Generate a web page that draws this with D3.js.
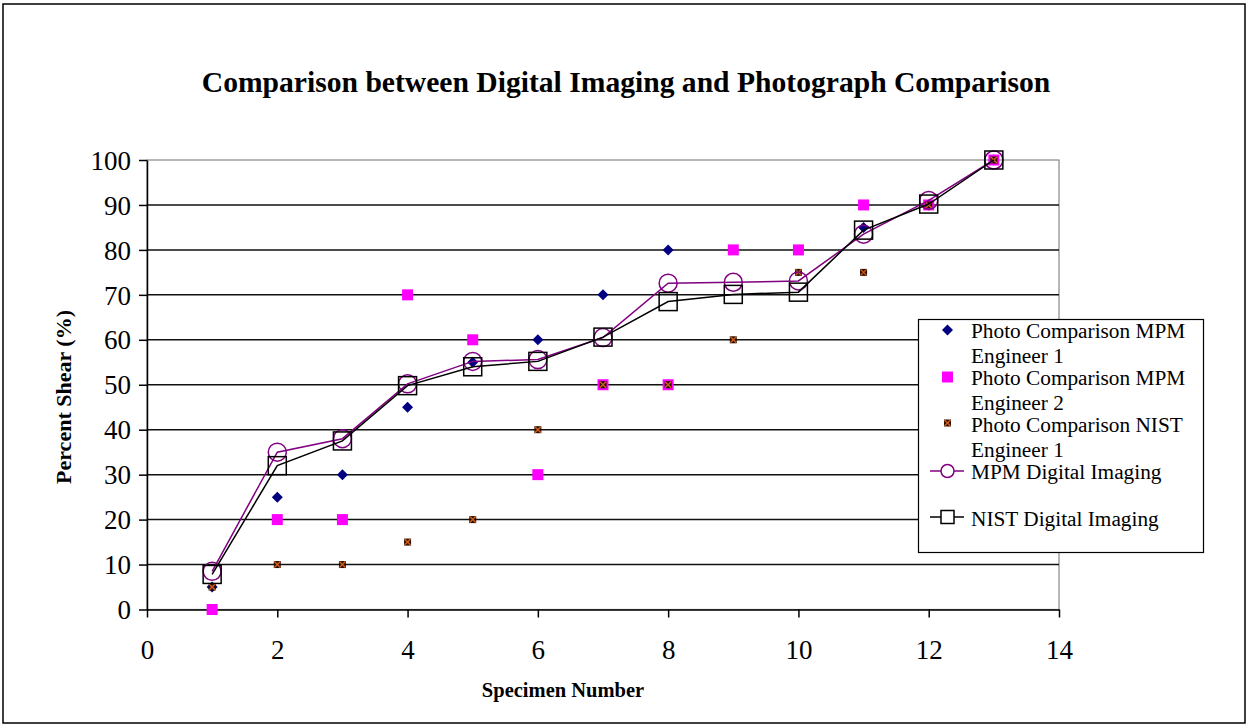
<!DOCTYPE html>
<meta charset="utf-8">
<head>
<title>Comparison between Digital Imaging and Photograph Comparison</title>
<style>
  body { margin: 0; background: #fff; }
  svg { display: block; background: #fff; }
  text { font-family: "Liberation Serif", "Times New Roman", serif; fill: #000; }
  .tick text { font-size: 27px; }
  .title { font-size: 29.6px; font-weight: bold; }
  .xtitle { font-size: 20.5px; font-weight: bold; }
  .ytitle { font-size: 22px; font-weight: bold; }
  .leg { font-size: 21.3px; }
</style>
</head>
<body>
<script src="https://cdn.jsdelivr.net/npm/d3@7/dist/d3.min.js"></script>
<script>

// data
var specimens   = [1, 2, 3, 4, 5, 6, 7, 8, 9, 10, 11, 12, 13];
var mpmEng1     = [5, 25, 30, 45, 55, 60, 70, 80, null, null, 85, 90, 100];
var mpmEng2     = [0, 20, 20, 70, 60, 30, 50, 50, 80, 80, 90, 90, 100];
var nistEng1    = [5, 10, 10, 15, 20, 40, 50, 50, 60, 75, 75, 90, 100];
var mpmDigital  = [8.5, 35, 38, 50.2, 55.2, 55.6, 60.5, 72.6, 72.8, 73.1, 83.5, 91, 100];
var nistDigital = [7.8, 32, 37.5, 49.8, 54, 55.2, 60.6, 68.5, 70.1, 70.6, 84.4, 90.2, 100];
var xTicks = [0, 2, 4, 6, 8, 10, 12, 14];
var yTicks = [0, 10, 20, 30, 40, 50, 60, 70, 80, 90, 100];
var legendLabels = [
  ["Photo Comparison MPM", "Engineer 1"],
  ["Photo Comparison MPM", "Engineer 2"],
  ["Photo Comparison NIST", "Engineer 1"],
  ["MPM Digital Imaging"],
  ["NIST Digital Imaging"]
];

var W = 1249, H = 725;
var margin = {top: 160, left: 147},
    width = 1059 - 147,
    height = 609.5 - 160;

var svg = d3.select("body").append("svg")
    .attr("width", W)
    .attr("height", H);

// outer chart border
svg.append("rect")
    .attr("x", 3).attr("y", 4)
    .attr("width", 1242).attr("height", 719)
    .attr("fill", "none").attr("stroke", "#000").attr("stroke-width", 1.5);

var g = svg.append("g")
    .attr("transform", "translate(" + margin.left + "," + margin.top + ")");

var x = d3.scaleLinear().domain([0, 14]).range([0, width]);
var y = d3.scaleLinear().domain([0, 100]).range([height, 0]);

// plot area border (gray top/right)
g.append("rect")
    .attr("x", 0).attr("y", 0)
    .attr("width", width).attr("height", height)
    .attr("fill", "none").attr("stroke", "#888").attr("stroke-width", 1.2);

// gridlines
g.selectAll(".grid")
    .data(yTicks.filter(function(d) { return d > 0 && d < 100; }))
    .enter().append("line")
    .attr("class", "grid")
    .attr("x1", 0).attr("x2", width)
    .attr("y1", function(d) { return y(d); })
    .attr("y2", function(d) { return y(d); })
    .attr("stroke", "#111").attr("stroke-width", 1.5);

// axes
var xAxis = g.append("g")
    .attr("transform", "translate(0," + height + ")")
    .call(d3.axisBottom(x).tickValues(xTicks).tickSize(8).tickPadding(22).tickSizeOuter(0));
var yAxis = g.append("g")
    .call(d3.axisLeft(y).tickValues(yTicks).tickSize(8).tickPadding(8).tickSizeOuter(0));
[xAxis, yAxis].forEach(function(a) {
  a.select(".domain").attr("stroke", "#000").attr("stroke-width", 1.5);
  a.selectAll(".tick line").attr("stroke", "#000").attr("stroke-width", 1.5);
  a.selectAll(".tick text").attr("fill", "#000").style("font-family", "Liberation Serif");
});
yAxis.selectAll(".tick text").attr("dy", "0.34em");

// marker helpers
function diamond(sel) {
  sel.append("path").attr("d", "M0,-5.5L5.5,0L0,5.5L-5.5,0Z").attr("fill", "#000080");
}
function pinkSquare(sel) {
  sel.append("rect").attr("x", -5.5).attr("y", -5.5).attr("width", 11).attr("height", 11).attr("fill", "#ff00ff");
}
function brownX(sel) {
  sel.append("rect").attr("x", -3.5).attr("y", -3.5).attr("width", 7).attr("height", 7).attr("fill", "#2a0e00");
  sel.append("path").attr("d", "M-3,-3L3,3M3,-3L-3,3").attr("stroke", "#d2601a").attr("stroke-width", 1.4);
}
function circleMark(sel) {
  sel.append("circle").attr("r", 9).attr("fill", "none").attr("stroke", "#800080").attr("stroke-width", 1.5);
}
function squareMark(sel) {
  sel.append("rect").attr("x", -9).attr("y", -9).attr("width", 18).attr("height", 18)
     .attr("fill", "none").attr("stroke", "#000").attr("stroke-width", 1.5);
}

function pts(vals) {
  return specimens.map(function(s, i) { return {x: s, y: vals[i]}; })
      .filter(function(d) { return d.y !== null; });
}

function scatter(vals, marker) {
  g.append("g").selectAll("g")
      .data(pts(vals))
      .enter().append("g")
      .attr("transform", function(d) { return "translate(" + x(d.x) + "," + y(d.y) + ")"; })
      .call(marker);
}

var line = d3.line()
    .x(function(d) { return x(d.x); })
    .y(function(d) { return y(d.y); });

scatter(mpmEng1, diamond);
scatter(mpmEng2, pinkSquare);
scatter(nistEng1, brownX);

g.append("path").datum(pts(mpmDigital))
    .attr("d", line).attr("fill", "none").attr("stroke", "#800080").attr("stroke-width", 1.5);
scatter(mpmDigital, circleMark);

g.append("path").datum(pts(nistDigital))
    .attr("d", line).attr("fill", "none").attr("stroke", "#000").attr("stroke-width", 1.5);
scatter(nistDigital, squareMark);

// titles
svg.append("text").attr("class", "title")
    .attr("x", 626).attr("y", 92).attr("text-anchor", "middle")
    .text("Comparison between Digital Imaging and Photograph Comparison");
svg.append("text").attr("class", "xtitle")
    .attr("x", 563).attr("y", 697).attr("text-anchor", "middle")
    .text("Specimen Number");
svg.append("text").attr("class", "ytitle")
    .attr("transform", "translate(71,397) rotate(-90)")
    .attr("text-anchor", "middle")
    .text("Percent Shear (%)");

// legend
var leg = svg.append("g");
leg.append("rect")
    .attr("x", 918.5).attr("y", 319.5).attr("width", 285).attr("height", 233)
    .attr("fill", "#fff").attr("stroke", "#000").attr("stroke-width", 1.2);

var legMarkers = [diamond, pinkSquare, brownX, circleMark, squareMark];
var legMarkY = [330, 377, 423, 471, 517];
var legBase = [[338, 363], [385, 410], [432, 457], [479], [526]];
var legLines = [null, null, null, "#800080", "#000"];

legendLabels.forEach(function(lbl, i) {
  if (legLines[i]) {
    leg.append("line")
        .attr("x1", 930).attr("x2", 964)
        .attr("y1", legMarkY[i]).attr("y2", legMarkY[i])
        .attr("stroke", legLines[i]).attr("stroke-width", 1.5);
  }
  var m = leg.append("g").attr("transform", "translate(947.5," + legMarkY[i] + ")");
  if (i === 3) m.append("circle").attr("r", 6.5).attr("fill", "#fff").attr("stroke", "#800080").attr("stroke-width", 1.5);
  else if (i === 4) m.append("rect").attr("x", -6.5).attr("y", -6.5).attr("width", 13).attr("height", 13).attr("fill", "#fff").attr("stroke", "#000").attr("stroke-width", 1.5);
  else m.call(legMarkers[i]);
  lbl.forEach(function(t, j) {
    leg.append("text").attr("class", "leg")
        .attr("x", 971).attr("y", legBase[i][j])
        .text(t);
  });
});

</script>
</body>
